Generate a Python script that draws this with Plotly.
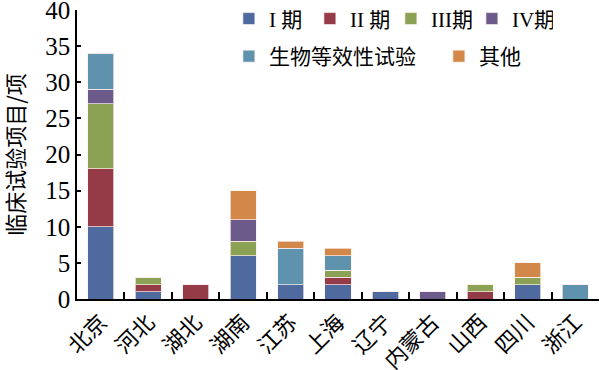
import plotly.graph_objects as go

provinces = ["北京", "河北", "湖北", "湖南", "江苏", "上海", "辽宁", "内蒙古", "山西", "四川", "浙江"]
phase1 = [10, 1, 0, 6, 2, 2, 1, 0, 0, 2, 0]
phase2 = [8, 1, 2, 0, 0, 1, 0, 0, 1, 0, 0]
phase3 = [9, 1, 0, 2, 0, 1, 0, 0, 1, 1, 0]
phase4 = [2, 0, 0, 3, 0, 0, 0, 1, 0, 0, 0]
bioeq = [5, 0, 0, 0, 5, 2, 0, 0, 0, 0, 2]
other = [0, 0, 0, 4, 1, 1, 0, 0, 0, 2, 0]
y_title = "临床试验项目/项"

series = [
    ("I 期", phase1, "#4F6A9E", "legend"),
    ("II 期", phase2, "#943B47", "legend"),
    ("III期", phase3, "#8BA153", "legend"),
    ("IV期", phase4, "#6C5A8A", "legend"),
    ("生物等效性试验", bioeq, "#5F92AD", "legend2"),
    ("其他", other, "#D28849", "legend2"),
]

fig = go.Figure()
for name, vals, color, lg in series:
    fig.add_trace(go.Bar(
        x=provinces, y=vals, name=name, legend=lg,
        marker=dict(color=color, line=dict(color="rgba(255,240,240,0.7)", width=1)),
    ))

serif = "Liberation Serif, Noto Sans CJK SC, serif"
fig.update_layout(
    barmode="stack",
    bargap=0.45,
    width=600, height=370,
    margin=dict(l=77, r=1, t=10, b=71, autoexpand=False),
    plot_bgcolor="white", paper_bgcolor="white",
    font=dict(family=serif, size=21, color="black"),
    showlegend=True,
    legend=dict(orientation="h", xref="paper", yref="paper",
                x=0.291, y=1.04, xanchor="left", yanchor="top",
                font=dict(size=21, family=serif), bgcolor="rgba(0,0,0,0)",
                itemwidth=30, traceorder="normal",
                entrywidth=36, entrywidthmode="pixels"),
    legend2=dict(orientation="h", xref="paper", yref="paper",
                 x=0.291, y=0.91, xanchor="left", yanchor="top",
                 font=dict(size=21, family=serif), bgcolor="rgba(0,0,0,0)",
                 itemwidth=30, traceorder="normal",
                 entrywidth=165, entrywidthmode="pixels"),
    annotations=[dict(text=y_title, xref="paper", yref="paper", x=-0.122, y=0.5,
                      xanchor="center", yanchor="middle", textangle=-90, showarrow=False,
                      font=dict(size=22, family="Noto Sans CJK SC"))],
)
fig.update_xaxes(
    showline=True, linecolor="black", linewidth=1.5,
    ticks="inside", ticklen=7, tickcolor="black", tickwidth=1.5,
    tickson="boundaries", tickangle=-45, automargin=False,
    tickfont=dict(size=22, family="Noto Sans CJK SC"),
    showgrid=False, mirror=False,
)
fig.update_yaxes(
    range=[0, 40], dtick=5, showline=True, linecolor="black", linewidth=1.5,
    ticks="inside", ticklen=4, tickcolor="black", tickwidth=1.5,
    tickfont=dict(size=25, family=serif), automargin=False,
    ticklabeloverflow="allow",
    showgrid=False, zeroline=False,
)
fig.write_html("out.html", config={"displayModeBar": False})

with open("out.html", "r", encoding="utf-8") as f:
    html = f.read()
html = html.replace("<head>", "<head><style>html,body{margin:0;padding:0;overflow:hidden;}</style>", 1)
with open("out.html", "w", encoding="utf-8") as f:
    f.write(html)
